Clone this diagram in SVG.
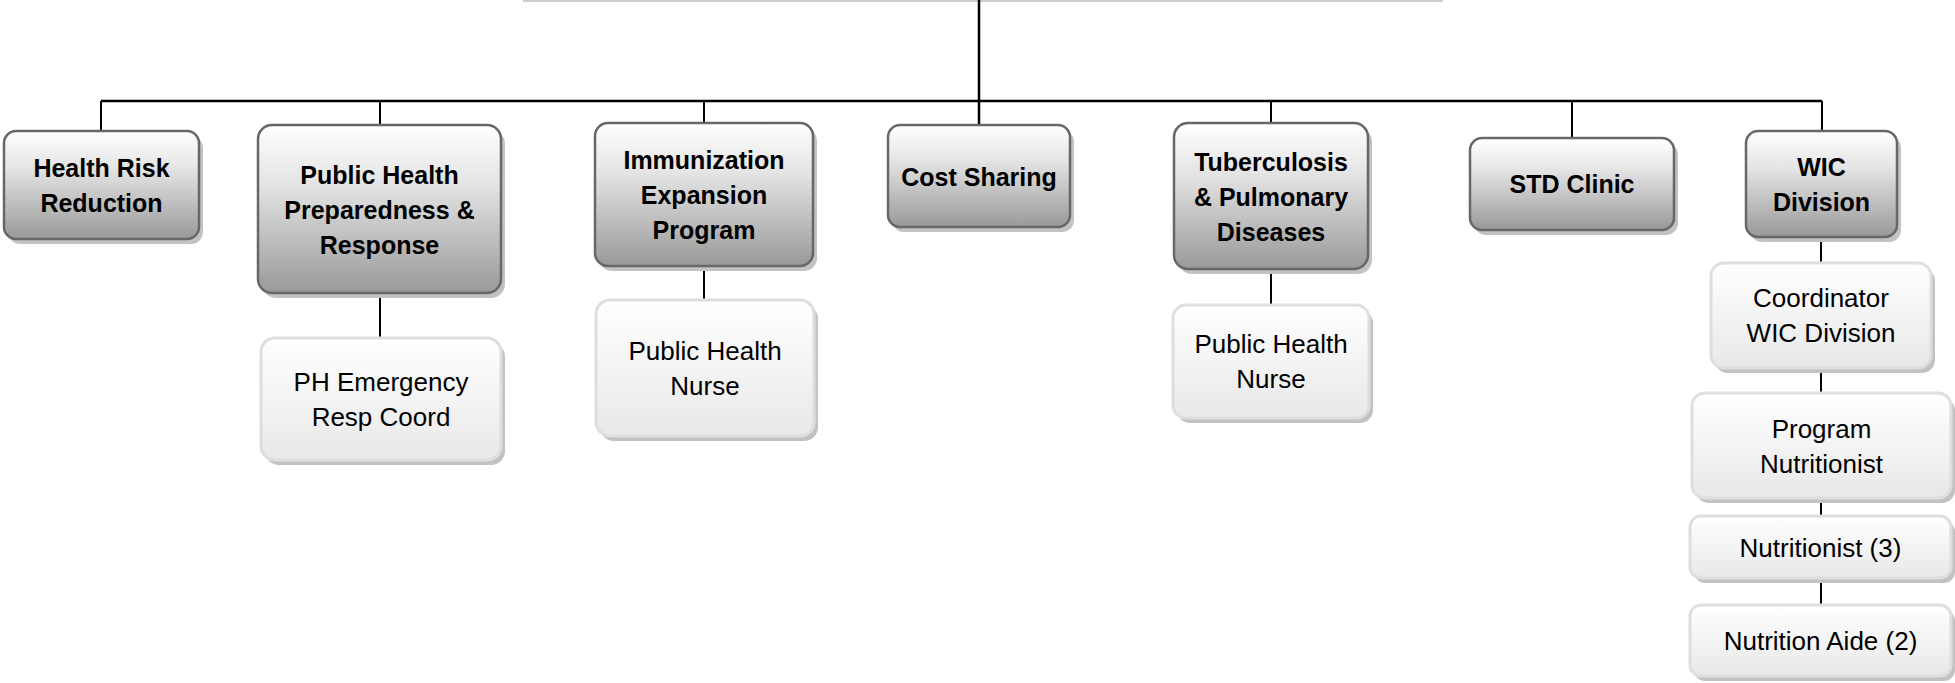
<svg xmlns="http://www.w3.org/2000/svg" width="1955" height="683" viewBox="0 0 1955 683">
<defs>
<linearGradient id="g1" x1="0" y1="0" x2="0" y2="1">
<stop offset="0" stop-color="#ffffff"/>
<stop offset="0.35" stop-color="#e4e4e4"/>
<stop offset="1" stop-color="#999999"/>
</linearGradient>
<linearGradient id="g2" x1="0" y1="0" x2="0" y2="1">
<stop offset="0" stop-color="#ffffff"/>
<stop offset="1" stop-color="#e8e8e8"/>
</linearGradient>
</defs>
<style>
.sh{fill:#c2c2c2}
.b1{fill:url(#g1);stroke:#676767;stroke-width:2.5}
.b2{fill:url(#g2);stroke:#dedede;stroke-width:3}
.t1{font-family:"Liberation Sans",Arial,sans-serif;font-size:25px;font-weight:bold;fill:#000;text-anchor:middle}
.t2{font-family:"Liberation Sans",Arial,sans-serif;font-size:26px;fill:#000;text-anchor:middle}
.c{stroke:#000;fill:none}
</style>
<rect x="523" y="0" width="920" height="2" fill="#cccccc"/>
<g id="connectors">
<path class="c" stroke-width="2.5" d="M979 0V125M101 101H1822"/>
<path class="c" stroke-width="2" d="M101 101V131M380 101V125M704 101V123M1271 101V123M1572 101V138M1822 101V131M380 293V338M704 266V300M1271 269V305M1821 237V676"/>
</g>
<g id="n-health-risk">
<rect class="sh" x="8" y="136" width="195" height="108" rx="12"/>
<rect class="b1" x="4" y="131" width="195" height="108" rx="12"/>
<text class="t1" x="101.5" y="177">Health Risk</text>
<text class="t1" x="101.5" y="212">Reduction</text>
</g>
<g id="n-phpr">
<rect class="sh" x="262" y="130" width="243" height="168" rx="14"/>
<rect class="b1" x="258" y="125" width="243" height="168" rx="14"/>
<text class="t1" x="379.5" y="183.5">Public Health</text>
<text class="t1" x="379.5" y="218.5">Preparedness &amp;</text>
<text class="t1" x="379.5" y="253.5">Response</text>
</g>
<g id="n-immunization">
<rect class="sh" x="599" y="128" width="218" height="143" rx="13"/>
<rect class="b1" x="595" y="123" width="218" height="143" rx="13"/>
<text class="t1" x="704" y="169">Immunization</text>
<text class="t1" x="704" y="204">Expansion</text>
<text class="t1" x="704" y="239">Program</text>
</g>
<g id="n-cost-sharing">
<rect class="sh" x="892" y="130" width="182" height="102" rx="12"/>
<rect class="b1" x="888" y="125" width="182" height="102" rx="12"/>
<text class="t1" x="979" y="185.5">Cost Sharing</text>
</g>
<g id="n-tb">
<rect class="sh" x="1178" y="128" width="194" height="146" rx="14"/>
<rect class="b1" x="1174" y="123" width="194" height="146" rx="14"/>
<text class="t1" x="1271" y="170.5">Tuberculosis</text>
<text class="t1" x="1271" y="205.5">&amp; Pulmonary</text>
<text class="t1" x="1271" y="240.5">Diseases</text>
</g>
<g id="n-std">
<rect class="sh" x="1474" y="143" width="204" height="92" rx="12"/>
<rect class="b1" x="1470" y="138" width="204" height="92" rx="12"/>
<text class="t1" x="1572" y="193">STD Clinic</text>
</g>
<g id="n-wic">
<rect class="sh" x="1750" y="136" width="151" height="106" rx="12"/>
<rect class="b1" x="1746" y="131" width="151" height="106" rx="12"/>
<text class="t1" x="1821.5" y="176">WIC</text>
<text class="t1" x="1821.5" y="211">Division</text>
</g>
<g id="n-ph-emergency">
<rect class="sh" x="265" y="343" width="240" height="122" rx="14"/>
<rect class="b2" x="261" y="338" width="240" height="122" rx="14"/>
<text class="t2" x="381" y="391">PH Emergency</text>
<text class="t2" x="381" y="426">Resp Coord</text>
</g>
<g id="n-imm-nurse">
<rect class="sh" x="600" y="305" width="218" height="136" rx="14"/>
<rect class="b2" x="596" y="300" width="218" height="136" rx="14"/>
<text class="t2" x="705" y="360">Public Health</text>
<text class="t2" x="705" y="395">Nurse</text>
</g>
<g id="n-tb-nurse">
<rect class="sh" x="1177" y="310" width="196" height="113" rx="13"/>
<rect class="b2" x="1173" y="305" width="196" height="113" rx="13"/>
<text class="t2" x="1271" y="353">Public Health</text>
<text class="t2" x="1271" y="388">Nurse</text>
</g>
<g id="n-coordinator">
<rect class="sh" x="1715" y="268" width="220" height="105" rx="13"/>
<rect class="b2" x="1711" y="263" width="220" height="105" rx="13"/>
<text class="t2" x="1821" y="306.5">Coordinator</text>
<text class="t2" x="1821" y="341.5">WIC Division</text>
</g>
<g id="n-program-nutritionist">
<rect class="sh" x="1696" y="398" width="259" height="105" rx="13"/>
<rect class="b2" x="1692" y="393" width="259" height="105" rx="13"/>
<text class="t2" x="1821.5" y="438">Program</text>
<text class="t2" x="1821.5" y="473">Nutritionist</text>
</g>
<g id="n-nutritionist">
<rect class="sh" x="1694" y="521" width="261" height="62" rx="11"/>
<rect class="b2" x="1690" y="516" width="261" height="62" rx="11"/>
<text class="t2" x="1820.5" y="556.5">Nutritionist (3)</text>
</g>
<g id="n-nutrition-aide">
<rect class="sh" x="1694" y="610" width="261" height="71" rx="11"/>
<rect class="b2" x="1690" y="605" width="261" height="71" rx="11"/>
<text class="t2" x="1820.5" y="650">Nutrition Aide (2)</text>
</g>
</svg>
